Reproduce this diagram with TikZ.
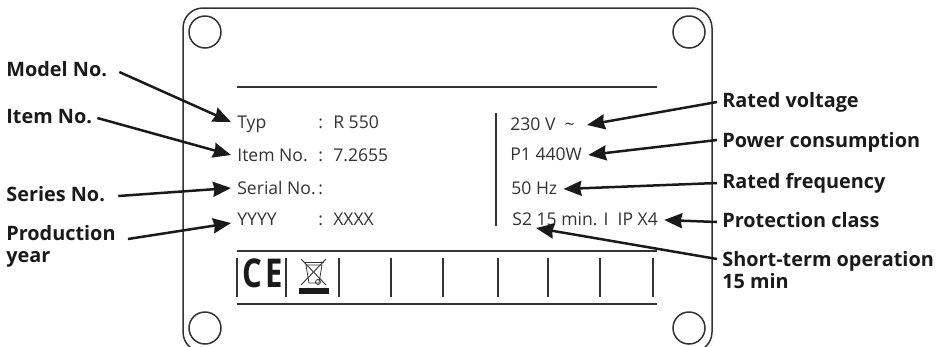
\documentclass[tikz,border=0pt]{standalone}
\usepackage{fontspec}
\setmainfont{Open Sans}
\usetikzlibrary{arrows.meta}
\definecolor{inkdark}{HTML}{1A1A1A}
\definecolor{inkplate}{HTML}{333333}
\newcommand{\platerow}[2]{\makebox[1.62cm][l]{#1}\makebox[0.3cm][l]{:}#2}
\tikzset{
	platetext/.style={anchor=base west, inner sep=0.12cm, text height=0.3cm, text depth=0.1cm, font=\fontsize{10}{12}\selectfont, text=inkplate},
	labeltext/.style={anchor=base west, inner sep=0.1cm, text height=0.3cm, text depth=0.1cm, font=\fontsize{11.3}{13}\selectfont\bfseries, text=inkdark},
	labelblock/.style={anchor=north west, inner sep=0.1cm, align=left, font=\fontsize{11.3}{12.8}\selectfont\bfseries, text=inkdark},
	callout/.style={draw=inkdark, line width=0.05cm, -{Stealth[length=0.36cm, width=0.3cm, inset=0.03cm]}},
	plateline/.style={draw=inkplate, line width=0.03cm},
	platetick/.style={draw=inkplate, line width=0.04cm},
}
\begin{document}
\begin{tikzpicture}[x=0.02cm, y=-0.02cm]
\useasboundingbox (0,0) rectangle (944,346);
% plate
\draw [plateline, rounded corners=0.4cm] (183,8) rectangle (712,352);
\foreach \x in {205,689} {
	\foreach \y in {32,328} {
		\draw [plateline] (\x,\y) circle (0.32cm);
	}
}
\draw [plateline] (237,87) -- (657,87);
\draw [plateline] (237,251) -- (657,251);
\draw [plateline] (237,304) -- (657,304);
\draw [platetick] (496,113) -- (496,226);
\foreach \x in {237,286,339,391,443,498,548,600,653} {
	\draw [platetick] (\x,258) -- (\x,297);
}
% marks
\node [anchor=base west, inner sep=0pt, xscale=0.78, transform shape, font=\fontsize{22.6}{23}\selectfont\bfseries, text=inkdark] (markce) at (242,287) {C\kern0.08cm E};
\draw [inkplate, line width=0.016cm] (306,265) -- (322,265) -- (319,283) -- (309,283) -- cycle;
\draw [inkplate, line width=0.016cm] (304,262) -- (324,262);
\draw [inkplate, line width=0.018cm] (301,259) -- (326,285);
\draw [inkplate, line width=0.018cm] (326,259) -- (301,285);
\draw [inkplate, line width=0.016cm] (318,282) circle (0.05cm);
\fill [inkdark] (299,288) rectangle (329,294);
% left column
\node [platetext] (txttyp) at (231,128) {\platerow{Typ}{R 550}};
\node [platetext] (txtitem) at (231,161) {\platerow{Item No.}{7.2655}};
\node [platetext] (txtserial) at (231,194) {\platerow{Serial No.}{}};
\node [platetext] (txtyear) at (231,225) {\platerow{YYYY}{XXXX}};
% right column
\node [platetext] (txtvolt) at (504,130) {230 V\ \ \textasciitilde};
\node [platetext] (txtpower) at (504,160) {P1 440W};
\node [platetext] (txtfreq) at (505,194) {50 Hz};
\node [platetext] (txtclass) at (506,225) {S2 15 min. I\ \ IP X4};
\coordinate (tipshort) at (536,228);
% labels
\node [labeltext] (lblmodel) at (1,76) {Model No.};
\node [labeltext] (lblitem) at (1,123) {Item No.};
\node [labeltext] (lblseries) at (1,201) {Series No.};
\node [labelblock] (lblprod) at (1,220) {Production\\year};
\node [labeltext] (lblvolt) at (717,107) {Rated voltage};
\node [labeltext] (lblpower) at (717,147) {Power consumption};
\node [labeltext] (lblfreq) at (717,188) {Rated frequency};
\node [labeltext] (lblclass) at (717,227) {Protection class};
\node [labelblock] (lblshort) at (717,246) {Short-term operation\\15 min};
% arrows
\draw [callout] ([xshift=0.14cm,yshift=-0.02cm]lblmodel.east) -- ([yshift=0.02cm]txttyp.west);
\draw [callout] (lblitem.east) -- ([yshift=0.02cm]txtitem.west);
\draw [callout] ([xshift=0.16cm]lblseries.east) -- ([yshift=0.02cm]txtserial.west);
\draw [callout] ([xshift=0.14cm,yshift=-0.38cm]lblprod.north east) -- ([yshift=-0.06cm]txtyear.west);
\draw [callout] (lblvolt.west) -- ([xshift=0.12cm]txtvolt.east);
\draw [callout] ([yshift=0.04cm]lblpower.west) -- (txtpower.east);
\draw [callout] (lblfreq.west) -- (txtfreq.east);
\draw [callout] (lblclass.west) -- (txtclass.east);
\draw [callout] ([yshift=-0.26cm]lblshort.north west) -- (tipshort);
\end{tikzpicture}
\end{document}
